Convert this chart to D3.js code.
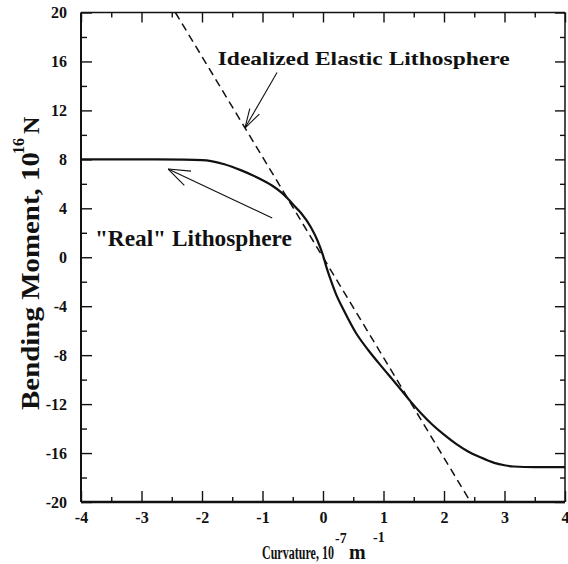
<!DOCTYPE html>
<html><head><meta charset="utf-8">
<script src="https://cdn.jsdelivr.net/npm/d3@7"></script>
<style>body{margin:0;background:#fff}svg{display:block}</style>
</head><body>
<script>
// ---- data ----
const curvatureReal = [-4, -3, -2.3, -2.0, -1.85, -1.63, -1.35, -1.08, -0.85, -0.69, -0.58, -0.48, -0.36, -0.2, -0.09, 0, 0.05, 0.12, 0.21, 0.35, 0.54, 0.75, 0.98, 1.15, 1.31, 1.45, 1.62, 1.8, 2.0, 2.2, 2.39, 2.6, 2.83, 3.0, 3.15, 3.5, 4.0];
const momentReal    = [8.0, 8.0, 7.98, 7.94, 7.86, 7.6, 7.1, 6.5, 5.88, 5.3, 4.78, 4.22, 3.6, 2.45, 1.35, 0.15, -0.7, -1.75, -2.95, -4.4, -6.15, -7.6, -9.0, -10.0, -10.95, -11.8, -12.75, -13.65, -14.5, -15.25, -15.85, -16.35, -16.8, -17.0, -17.1, -17.15, -17.15];
const curvatureElastic = [-2.44, 2.44];
const momentElastic    = [20, -20];
const xTicks = [-4, -3, -2, -1, 0, 1, 2, 3, 4];
const xMinorTicks = [-3.5, -2.5, -1.5, -0.5, 0.5, 1.5, 2.5, 3.5];
const yTicks = [20, 16, 12, 8, 4, 0, -4, -8, -12, -16, -20];
const yMinorTicks = [18, 14, 10, 6, 2, -2, -6, -10, -14, -18];

// annotations (data coordinates)
const annIdealText = {k: -1.74, m: 15.7, text: "Idealized Elastic Lithosphere"};
const annIdealArrow = {from: [-0.76, 15.1], to: [-1.29, 10.56]};
const annRealText = {k: -3.77, m: 0.92, text: "\"Real\" Lithosphere"};
const annRealArrow = {from: [-0.84, 3.21], to: [-2.56, 7.21]};

// ---- chart ----
const W = 568, H = 564;
const FONT = "'Liberation Serif', 'Times New Roman', serif";
const svg = d3.select("body").append("svg").attr("width", W).attr("height", H)
  .style("font-family", FONT);

const x = d3.scaleLinear().domain([-4, 4]).range([81, 565]);
const y = d3.scaleLinear().domain([-20, 20]).range([502, 12.5]);
const X0 = x.range()[0], X1 = x.range()[1], Y0 = y.range()[0], Y1 = y.range()[1];
const fmt = d => String(d);

function styleAxis(g, fs) {
  g.select(".domain").remove();
  g.selectAll(".tick line").attr("stroke", "#111").attr("stroke-width", 1.4);
  g.selectAll(".tick text").attr("fill", "#111").style("font-family", FONT)
    .style("font-size", fs + "px").style("font-weight", "bold");
}

// bottom
svg.append("g").attr("transform", `translate(0,${Y0})`)
  .call(d3.axisBottom(x).tickValues(xTicks).tickSizeInner(-11).tickSizeOuter(0).tickPadding(10).tickFormat(fmt))
  .call(g => styleAxis(g, 16));
svg.append("g").attr("transform", `translate(0,${Y0})`)
  .call(d3.axisBottom(x).tickValues(xMinorTicks).tickSizeInner(-5).tickSizeOuter(0).tickFormat(""))
  .call(g => styleAxis(g, 16));
// top
svg.append("g").attr("transform", `translate(0,${Y1})`)
  .call(d3.axisTop(x).tickValues(xTicks).tickSizeInner(-10).tickSizeOuter(0).tickFormat(""))
  .call(g => styleAxis(g, 16));
svg.append("g").attr("transform", `translate(0,${Y1})`)
  .call(d3.axisTop(x).tickValues(xMinorTicks).tickSizeInner(-5).tickSizeOuter(0).tickFormat(""))
  .call(g => styleAxis(g, 16));
// left
svg.append("g").attr("transform", `translate(${X0},0)`)
  .call(d3.axisLeft(y).tickValues(yTicks).tickSizeInner(-11).tickSizeOuter(0).tickPadding(14).tickFormat(fmt))
  .call(g => styleAxis(g, 16));
svg.append("g").attr("transform", `translate(${X0},0)`)
  .call(d3.axisLeft(y).tickValues(yMinorTicks).tickSizeInner(-6).tickSizeOuter(0).tickFormat(""))
  .call(g => styleAxis(g, 16));
// right
svg.append("g").attr("transform", `translate(${X1},0)`)
  .call(d3.axisRight(y).tickValues(yTicks).tickSizeInner(-10).tickSizeOuter(0).tickFormat(""))
  .call(g => styleAxis(g, 16));
svg.append("g").attr("transform", `translate(${X1},0)`)
  .call(d3.axisRight(y).tickValues(yMinorTicks).tickSizeInner(-5).tickSizeOuter(0).tickFormat(""))
  .call(g => styleAxis(g, 16));

// frame
const frame = svg.append("g").attr("stroke", "#111").attr("fill", "none");
frame.append("line").attr("x1", X0).attr("x2", X1).attr("y1", Y0).attr("y2", Y0).attr("stroke-width", 2.6);
frame.append("line").attr("x1", X0).attr("x2", X1).attr("y1", Y1).attr("y2", Y1).attr("stroke-width", 1.5);
frame.append("line").attr("x1", X0).attr("x2", X0).attr("y1", Y1).attr("y2", Y0).attr("stroke-width", 2);
frame.append("line").attr("x1", X1).attr("x2", X1).attr("y1", Y1).attr("y2", Y0).attr("stroke-width", 1.5);

// elastic (dashed)
const elastic = curvatureElastic.map((k, i) => [k, momentElastic[i]]);
svg.append("path").datum(elastic)
  .attr("d", d3.line().x(d => x(d[0])).y(d => y(d[1])))
  .attr("fill", "none").attr("stroke", "#111").attr("stroke-width", 1.5)
  .attr("stroke-dasharray", "8,5");

// real (solid)
const real = curvatureReal.map((k, i) => [k, momentReal[i]]);
svg.append("path").datum(real)
  .attr("d", d3.line().curve(d3.curveMonotoneX).x(d => x(d[0])).y(d => y(d[1])))
  .attr("fill", "none").attr("stroke", "#111").attr("stroke-width", 2.2);

// arrows
function arrow(a, barbLen, ang) {
  const x1 = x(a.from[0]), y1 = y(a.from[1]), x2 = x(a.to[0]), y2 = y(a.to[1]);
  const th = Math.atan2(y1 - y2, x1 - x2);
  const g = svg.append("g").attr("stroke", "#111").attr("stroke-width", 1.1).attr("fill", "none");
  g.append("line").attr("x1", x1).attr("y1", y1).attr("x2", x2).attr("y2", y2);
  [-1, 1].forEach(s => {
    const t = th + s * ang * Math.PI / 180;
    g.append("line").attr("x1", x2).attr("y1", y2)
      .attr("x2", x2 + barbLen * Math.cos(t)).attr("y2", y2 + barbLen * Math.sin(t));
  });
}
arrow(annIdealArrow, 20, 16);
arrow(annRealArrow, 23, 20);

// text fitted to a width via a horizontal scale
function fitText(parent, tx, ty, str, fs, width, rot) {
  const g = parent.append("g");
  const t = g.append("text").attr("x", 0).attr("y", 0)
    .style("font-size", fs + "px").style("font-weight", "bold").attr("fill", "#111").text(str);
  const len = t.node().getComputedTextLength();
  g.attr("transform", `translate(${tx},${ty})${rot ? " rotate(" + rot + ")" : ""} scale(${width / len},1)`);
  return g;
}

// annotation text
fitText(svg, x(annIdealText.k), y(annIdealText.m), annIdealText.text, 19, 292);
fitText(svg, x(annRealText.k), y(annRealText.m), annRealText.text, 23, 197);

// axis titles
const xl = svg.append("g").attr("fill", "#111").style("font-weight", "bold");
fitText(xl, 262, 559, "Curvature, 10", 19, 72);
xl.append("text").attr("x", 335).attr("y", 543).style("font-size", "14px").text("-7");
xl.append("text").attr("x", 349).attr("y", 559).style("font-size", "20px").text("m");
xl.append("text").attr("x", 373).attr("y", 542).style("font-size", "14px").text("-1");

fitText(svg, 39, 410, "Bending Moment, 10", 26, 258, -90);
const yl = svg.append("g").attr("fill", "#111").style("font-weight", "bold")
  .attr("transform", "translate(39,410) rotate(-90)");
yl.append("text").attr("x", 256).attr("y", -15).style("font-size", "16px").text("16");
yl.append("text").attr("x", 276).attr("y", 0).style("font-size", "24px").text("N");
</script>
</body></html>
